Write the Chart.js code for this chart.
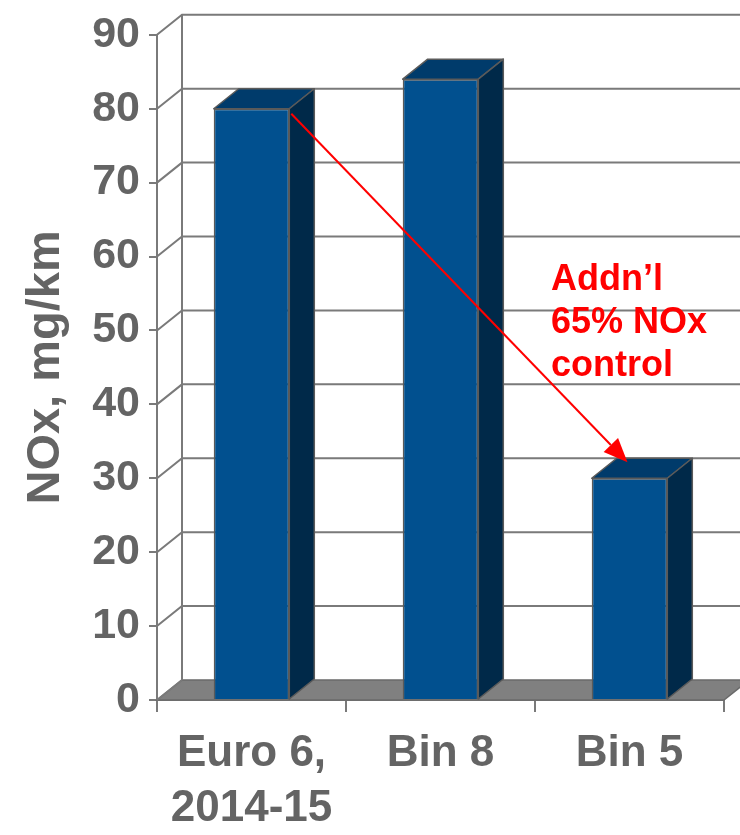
<!DOCTYPE html>
<html>
<head>
<meta charset="utf-8">
<script src="https://cdn.jsdelivr.net/npm/chart.js@4.4.0/dist/chart.umd.min.js"></script>
<style>
  html, body { margin: 0; padding: 0; background: #fff; }
  #wrap { width: 740px; height: 835px; }
</style>
</head>
<body>
<div id="wrap"><canvas id="noxChart"></canvas></div>
<script>
const categories = [['Euro 6,', '2014-15'], 'Bin 8', 'Bin 5'];
const noxValues = [80, 84, 30];
const yTicks = [0, 10, 20, 30, 40, 50, 60, 70, 80, 90];
const noteLines = ['Addn\u2019l', '65% NOx', 'control'];

const FONT = '"Liberation Sans", Arial, sans-serif';
const TEXT_GRAY = '#646464';
const LINE_GRAY = '#7a7a7a';
const DX = 25, DY = 20; // depth of the fake 3D box

function face(ctx, pts, fill) {
  ctx.beginPath();
  ctx.moveTo(pts[0][0], pts[0][1]);
  for (let i = 1; i < pts.length; i++) ctx.lineTo(pts[i][0], pts[i][1]);
  ctx.closePath();
  ctx.fillStyle = fill;
  ctx.fill();
  ctx.stroke();
}

// floor, back wall and side wall behind the bars, then top/side faces of each bar
const box3d = {
  id: 'box3d',
  beforeDatasetsDraw(chart) {
    const { ctx, chartArea: a, scales: { y } } = chart;
    ctx.save();
    ctx.lineJoin = 'miter';
    ctx.strokeStyle = '#6a6a6a';
    ctx.lineWidth = 1.5;
    face(ctx, [[a.left, a.bottom], [a.left + DX, a.bottom - DY], [a.right + DX, a.bottom - DY], [a.right, a.bottom]], '#808080');

    ctx.strokeStyle = LINE_GRAY;
    ctx.lineWidth = 2;
    yTicks.forEach(v => {
      const py = y.getPixelForValue(v);
      ctx.beginPath();
      ctx.moveTo(a.left, py);
      ctx.lineTo(a.left + DX, py - DY);
      if (v > 0) ctx.lineTo(a.right + DX, py - DY);
      ctx.stroke();
    });
    ctx.beginPath();
    ctx.moveTo(a.left + DX, y.getPixelForValue(yTicks[yTicks.length - 1]) - DY);
    ctx.lineTo(a.left + DX, a.bottom - DY);
    ctx.stroke();
    ctx.restore();
  },
  afterDatasetsDraw(chart) {
    const ctx = chart.ctx;
    ctx.save();
    ctx.strokeStyle = '#5a5a5a';
    ctx.lineWidth = 1.5;
    ctx.lineJoin = 'round';
    chart.getDatasetMeta(0).data.forEach(bar => {
      const l = bar.x - bar.width / 2, r = bar.x + bar.width / 2;
      const t = bar.y, b = bar.base;
      face(ctx, [[l, t], [l + DX, t - DY], [r + DX, t - DY], [r, t]], '#003b6b');
      face(ctx, [[r, t], [r + DX, t - DY], [r + DX, b - DY], [r, b]], '#002949');
    });
    ctx.restore();
  }
};

// red arrow from the Euro 6 bar down to Bin 5, with its note
const reduction = {
  id: 'reduction',
  afterDatasetsDraw(chart) {
    const { ctx, chartArea: a } = chart;
    const bars = chart.getDatasetMeta(0).data;
    const x0 = bars[0].x + bars[0].width / 2 + 2, y0 = bars[0].y + 5;
    const x1 = bars[2].x - 2, y1 = bars[2].y - 16;
    const ang = Math.atan2(y1 - y0, x1 - x0);
    const head = 24, half = 10;
    const bx = x1 - head * Math.cos(ang), by = y1 - head * Math.sin(ang);

    ctx.save();
    ctx.strokeStyle = '#ff0000';
    ctx.fillStyle = '#ff0000';
    ctx.lineWidth = 2;
    ctx.beginPath();
    ctx.moveTo(x0, y0);
    ctx.lineTo(bx, by);
    ctx.stroke();
    ctx.beginPath();
    ctx.moveTo(x1, y1);
    ctx.lineTo(bx + half * Math.sin(ang), by - half * Math.cos(ang));
    ctx.lineTo(bx - half * Math.sin(ang), by + half * Math.cos(ang));
    ctx.closePath();
    ctx.fill();

    ctx.font = 'bold 36px ' + FONT;
    ctx.textAlign = 'left';
    ctx.textBaseline = 'alphabetic';
    noteLines.forEach((line, i) => {
      ctx.fillText(line, a.left + 394, a.top + 255 + i * 43);
    });
    ctx.restore();
  }
};

new Chart(document.getElementById('noxChart'), {
  type: 'bar',
  data: {
    labels: categories,
    datasets: [{
      data: noxValues,
      backgroundColor: '#01508f',
      borderColor: '#5a5a5a',
      borderWidth: 1.5,
      categoryPercentage: 1,
      barPercentage: 0.4
    }]
  },
  options: {
    responsive: true,
    maintainAspectRatio: false,
    animation: false,
    layout: { padding: { top: 30, right: 16, left: 0, bottom: 0 } },
    plugins: { legend: { display: false }, tooltip: { enabled: false } },
    scales: {
      x: {
        afterFit: s => { s.height = 135; },
        grid: { offset: true, drawOnChartArea: false, drawTicks: true, tickLength: 12, color: LINE_GRAY, lineWidth: 2 },
        border: { display: true, color: LINE_GRAY, width: 2 },
        ticks: {
          color: TEXT_GRAY,
          padding: 14,
          maxRotation: 0,
          autoSkip: false,
          font: { family: FONT, size: 44, weight: 'bold', lineHeight: 1.25 }
        }
      },
      y: {
        min: 0,
        max: 90,
        afterFit: s => { s.width = 157; },
        afterBuildTicks: s => { s.ticks = yTicks.map(v => ({ value: v })); },
        grid: { drawOnChartArea: false, drawTicks: true, tickLength: 8, color: LINE_GRAY, lineWidth: 2 },
        border: { display: true, color: LINE_GRAY, width: 2 },
        ticks: {
          color: TEXT_GRAY,
          padding: 9,
          font: { family: FONT, size: 43, weight: 'bold' }
        },
        title: {
          display: true,
          text: 'NOx, mg/km',
          color: TEXT_GRAY,
          padding: { top: 18, bottom: 0 },
          font: { family: FONT, size: 47, weight: 'bold' }
        }
      }
    }
  },
  plugins: [box3d, reduction]
});
</script>
</body>
</html>
